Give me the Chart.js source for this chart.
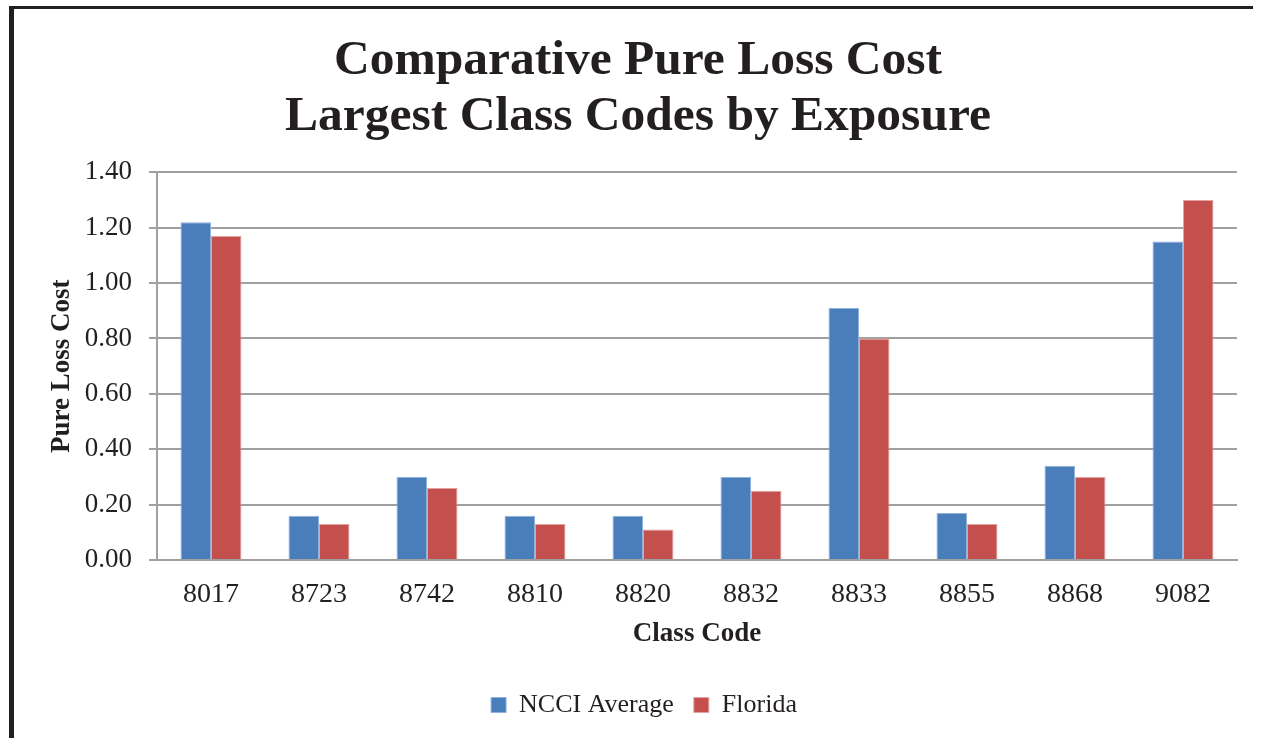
<!DOCTYPE html>
<html lang="en">
<head>
    <meta charset="UTF-8">
    <title>Comparative Pure Loss Cost</title>
    <script src="https://cdn.jsdelivr.net/npm/chart.js@4/dist/chart.umd.min.js"></script>
    <style>
        html, body {
            margin: 0;
            padding: 0;
            background: #fff;
        }
        .wrap {
            position: relative;
            width: 1262px;
            height: 738px;
        }
        .frame {
            position: absolute;
            left: 9px;
            top: 6px;
            width: 1244px;
            height: 732px;
            box-sizing: border-box;
            border-left: 5px solid #231f20;
            border-top: 3px solid #231f20;
            pointer-events: none;
        }
        canvas {
            position: absolute;
            left: 0;
            top: 0;
        }
    </style>
</head>
<body>
    <div class="wrap">
        <canvas id="lossChart" width="1262" height="738"></canvas>
        <div class="frame"></div>
    </div>

    <script>
        // data
        const classCodes = ['8017', '8723', '8742', '8810', '8820', '8832', '8833', '8855', '8868', '9082'];
        const ncciAverage = [1.22, 0.16, 0.30, 0.16, 0.16, 0.30, 0.91, 0.17, 0.34, 1.15];
        const florida = [1.17, 0.13, 0.26, 0.13, 0.11, 0.25, 0.80, 0.13, 0.30, 1.30];
        const yTicks = [0, 0.2, 0.4, 0.6, 0.8, 1.0, 1.2, 1.4];

        const serif = '"Liberation Serif", "Times New Roman", serif';
        const textColor = '#231f20';
        const gridColor = '#a0a0a0';

        const ctx = document.getElementById('lossChart').getContext('2d');

        // the title sits a little left of the legend in the original
        const titleNudge = {
            id: 'titleNudge',
            afterLayout(chart) {
                const t = chart.titleBlock;
                if (t) {
                    t.left -= 6;
                    t.right -= 6;
                }
            }
        };

        new Chart(ctx, {
            type: 'bar',
            data: {
                labels: classCodes,
                datasets: [
                    {
                        label: 'NCCI Average',
                        data: ncciAverage,
                        backgroundColor: '#4a7ebb',
                        borderColor: '#8fb1dc',
                        borderWidth: 1
                    },
                    {
                        label: 'Florida',
                        data: florida,
                        backgroundColor: '#c4504e',
                        borderColor: '#e4a2a0',
                        borderWidth: 1
                    }
                ]
            },
            options: {
                responsive: false,
                animation: false,
                categoryPercentage: 0.565,
                barPercentage: 1.0,
                layout: {
                    padding: { top: 23, left: 51, right: 25, bottom: 10 }
                },
                plugins: {
                    title: {
                        display: true,
                        text: ['Comparative Pure Loss Cost', 'Largest Class Codes by Exposure'],
                        color: textColor,
                        font: { family: serif, size: 49.5, weight: 'bold', lineHeight: 1.135 },
                        padding: { top: 10, bottom: 27 }
                    },
                    legend: {
                        position: 'bottom',
                        labels: {
                            color: textColor,
                            font: { family: serif, size: 26 },
                            boxWidth: 15,
                            boxHeight: 15,
                            padding: 20
                        }
                    },
                    tooltip: { enabled: false }
                },
                scales: {
                    x: {
                        afterFit: (scale) => { scale.height = 112; },
                        grid: { display: false },
                        border: { color: gridColor, width: 2 },
                        ticks: {
                            color: textColor,
                            font: { family: serif, size: 28 },
                            padding: 10
                        },
                        title: {
                            display: true,
                            text: 'Class Code',
                            color: textColor,
                            font: { family: serif, size: 27, weight: 'bold', lineHeight: 1.2 },
                            padding: { top: 4, bottom: 22 }
                        }
                    },
                    y: {
                        min: 0,
                        max: 1.4,
                        afterFit: (scale) => { scale.width = 106; },
                        afterBuildTicks: (scale) => {
                            scale.ticks = yTicks.map(v => ({ value: v }));
                        },
                        grid: {
                            color: gridColor,
                            lineWidth: 2,
                            tickLength: 8
                        },
                        border: { color: gridColor, width: 2 },
                        ticks: {
                            color: textColor,
                            font: { family: serif, size: 27 },
                            padding: 17,
                            callback: (v) => Number(v).toFixed(2)
                        },
                        title: {
                            display: true,
                            text: 'Pure Loss Cost',
                            color: textColor,
                            font: { family: serif, size: 27, weight: 'bold', lineHeight: 0.8 },
                            padding: { top: 0, bottom: 0 }
                        }
                    }
                }
            },
            plugins: [titleNudge]
        });
    </script>
</body>
</html>
